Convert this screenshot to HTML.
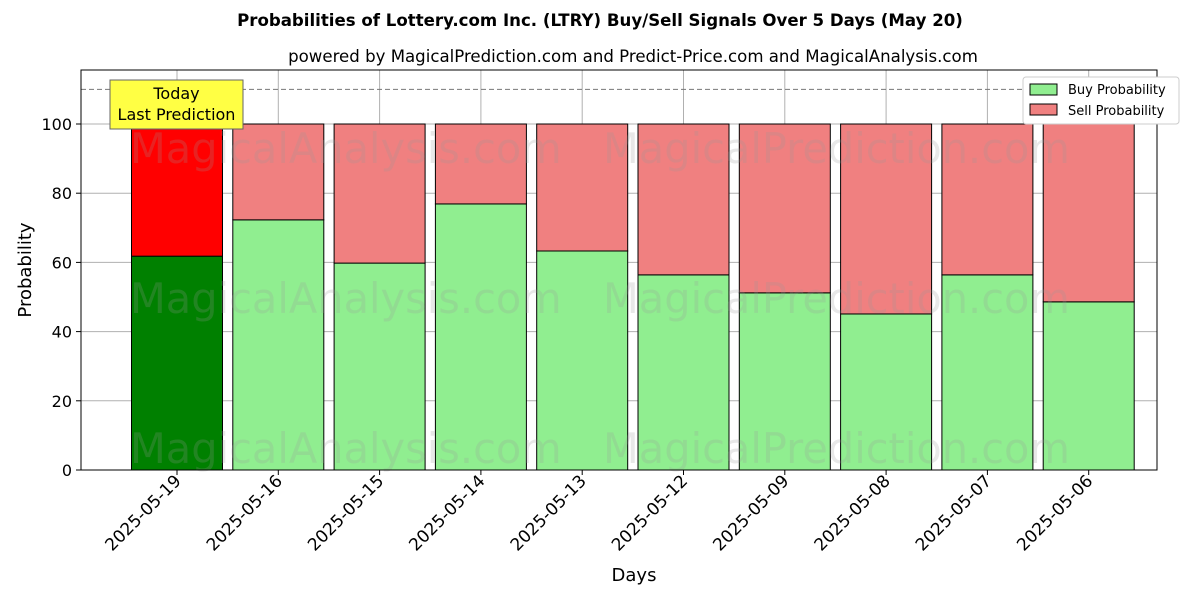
<!DOCTYPE html>
<html><head><meta charset="utf-8"><style>
body{margin:0;background:#fff;font-family:"Liberation Sans","DejaVu Sans",sans-serif;}
</style></head><body>
<svg id="c" width="1200" height="600" xmlns="http://www.w3.org/2000/svg" font-family="DejaVu Sans, Liberation Sans, sans-serif">
<text x="600" y="26" text-anchor="middle" font-size="16.6" font-weight="bold">Probabilities of Lottery.com Inc. (LTRY) Buy/Sell Signals Over 5 Days (May 20)</text>
<text x="633" y="62" text-anchor="middle" font-size="16.6">powered by MagicalPrediction.com and Predict-Price.com and MagicalAnalysis.com</text>
<g id="grid"></g>
<g id="bars"></g>
<g id="wm" font-size="41.5" fill="#999" opacity="0.22">
<text x="130" y="163">MagicalAnalysis.com</text>
<text x="603" y="163">MagicalPrediction.com</text>
<text x="130" y="313">MagicalAnalysis.com</text>
<text x="603" y="313">MagicalPrediction.com</text>
<text x="130" y="463">MagicalAnalysis.com</text>
<text x="603" y="463">MagicalPrediction.com</text>
</g>
<line x1="81" y1="89.4" x2="1157" y2="89.4" stroke="#777" stroke-dasharray="5,3"/>
<rect x="81" y="70" width="1076" height="400" fill="none" stroke="#000"/>
<g id="axes" font-size="16"></g>
<text x="634" y="581" text-anchor="middle" font-size="18">Days</text>
<text transform="translate(31,270) rotate(-90)" text-anchor="middle" font-size="18">Probability</text>
<g>
<rect x="110" y="80" width="133" height="49" fill="#ffff44" stroke="#666"/>
<text x="176.5" y="99" text-anchor="middle" font-size="16">Today</text>
<text x="176.5" y="120" text-anchor="middle" font-size="16">Last Prediction</text>
</g>
<g font-size="13">
<rect x="1023" y="77" width="156" height="47" fill="#fff" stroke="#ccc" rx="3"/>
<rect x="1030" y="84" width="27" height="11" fill="#90ee90" stroke="#000"/>
<text x="1068" y="94">Buy Probability</text>
<rect x="1030" y="104" width="27" height="11" fill="#f08080" stroke="#000"/>
<text x="1068" y="115">Sell Probability</text>
</g>
</svg>
<script>
const categories=["2025-05-19","2025-05-16","2025-05-15","2025-05-14","2025-05-13","2025-05-12","2025-05-09","2025-05-08","2025-05-07","2025-05-06"];
const buyValues=[61.8,72.3,59.8,76.9,63.3,56.4,51.2,45.1,56.4,48.6];
const yTicks=[0,20,40,60,80,100];
const NS="http://www.w3.org/2000/svg";
const y=v=>470-v*3.46;
const x=i=>177+i*101.3;
const bw=91;
function mk(t,a,p){const e=document.createElementNS(NS,t);for(const k in a)e.setAttribute(k,a[k]);p.appendChild(e);return e;}
const grid=document.getElementById('grid'),bars=document.getElementById('bars'),axes=document.getElementById('axes');
yTicks.forEach(v=>{
 const l=mk('line',{x1:81,x2:1157,y1:y(v),y2:y(v),stroke:'#b0b0b0'},grid);
 
 
 mk('line',{x1:76,x2:81,y1:y(v),y2:y(v),stroke:'#000'},axes);
 const t=mk('text',{x:72,y:y(v)+6,'text-anchor':'end'},axes);t.textContent=v;
 
 
});
categories.forEach((c,i)=>{
 const l=mk('line',{x1:x(i),x2:x(i),y1:70,y2:470,stroke:'#b0b0b0'},grid);
 
 
 const b=buyValues[i];
 const r1=mk('rect',{x:x(i)-bw/2,y:y(b),width:bw,height:y(0)-y(b),fill:i==0?'#008000':'#90ee90',stroke:'#000'},bars);
 
 
 const r2=mk('rect',{x:x(i)-bw/2,y:y(100),width:bw,height:y(b)-y(100),fill:i==0?'#ff0000':'#f08080',stroke:'#000'},bars);
 
 
 mk('line',{x1:x(i),x2:x(i),y1:470,y2:475,stroke:'#000'},axes);
 const t=mk('text',{x:x(i)+5,y:482,'text-anchor':'end','font-size':17,transform:`rotate(-45 ${x(i)+5} 482)`},axes);t.textContent=c;
 
 
});
</script>
</body></html>
